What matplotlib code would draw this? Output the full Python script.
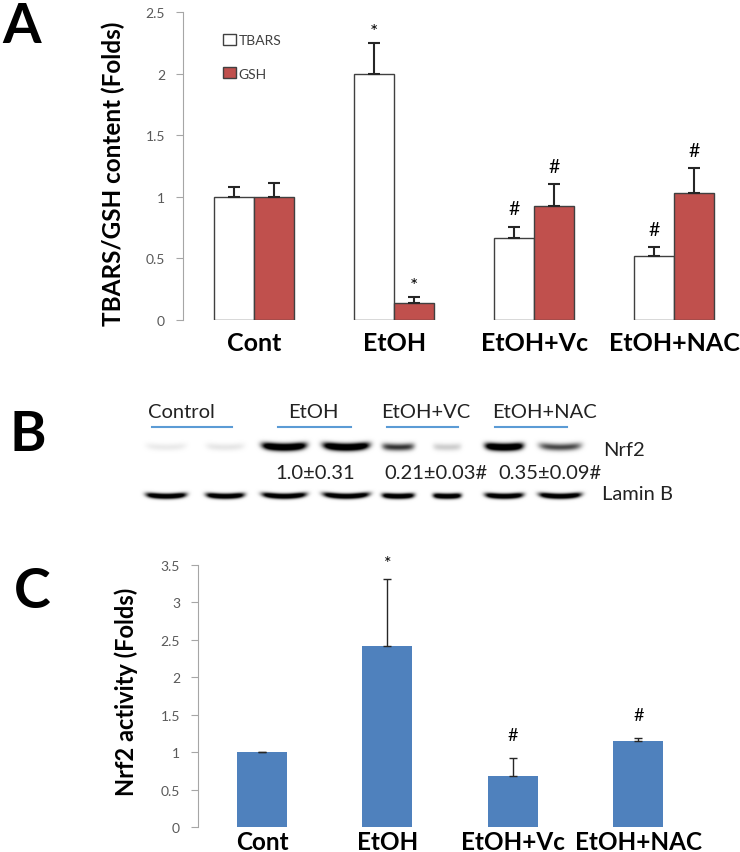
import numpy as np
import matplotlib
matplotlib.use("Agg")
import matplotlib.pyplot as plt

plt.rcParams['font.family'] = ['Lato', 'DejaVu Sans']

# ---- data -------------------------------------------------------------
groups_a = ['Cont', 'EtOH', 'EtOH+Vc', 'EtOH+NAC']
tbars = [1.0, 2.0, 0.665, 0.52]
tbars_err = [0.08, 0.25, 0.09, 0.07]
gsh = [1.0, 0.14, 0.925, 1.03]
gsh_err = [0.11, 0.05, 0.175, 0.20]
tbars_sig = ['', '*', '#', '#']
gsh_sig = ['', '*', '#', '#']

blot_groups = ['Control', 'EtOH', 'EtOH+VC', 'EtOH+NAC']
nrf2_band = [0.05, 0.06, 1.0, 1.0, 0.5, 0.12, 1.0, 0.45]
lamin_band = [1.0, 1.0, 1.0, 1.0, 1.0, 1.0, 1.0, 1.0]
nrf2_quant = ['', '1.0±0.31', '0.21±0.03#', '0.35±0.09#']

groups_c = ['Cont', 'EtOH', 'EtOH+Vc', 'EtOH+NAC']
nrf2_act = [1.0, 2.42, 0.68, 1.15]
nrf2_err = [0.005, 0.89, 0.24, 0.04]
nrf2_sig = ['', '*', '#', '#']

W, H = 740, 853
fig = plt.figure(figsize=(W / 100, H / 100), dpi=100)


def box(left, top, right, bottom):
    return [left / W, 1 - bottom / H, (right - left) / W, (bottom - top) / H]


def style_axis(ax, ymax, step):
    for s in ['top', 'right', 'bottom']:
        ax.spines[s].set_visible(False)
    ax.spines['left'].set_color('#a6a6a6')
    ax.set_ylim(0, ymax)
    ticks = np.arange(0, ymax + 0.01, step)
    ax.set_yticks(ticks)
    ax.set_yticklabels([f'{v:g}' for v in ticks])
    ax.tick_params(axis='y', direction='out', length=5, color='#a6a6a6',
                   labelcolor='#595959', labelsize=10, pad=8)
    ax.tick_params(axis='x', length=0, labelsize=18, pad=8)
    for lab in ax.get_xticklabels():
        lab.set_fontweight('bold')


# ---- panel A ----------------------------------------------------------
ax = fig.add_axes(box(183, 13, 740, 321))
x = np.arange(len(groups_a))
w = 0.286
b1 = ax.bar(x - w / 2, tbars, w, color='white', edgecolor='#404040', linewidth=1)
b2 = ax.bar(x + w / 2, gsh, w, color='#c0504d', edgecolor='#404040', linewidth=1)
ax.errorbar(x - w / 2, tbars, yerr=[np.zeros(4), tbars_err], fmt='none',
            ecolor='#262626', elinewidth=1.5, capsize=4, capthick=1.5)
ax.errorbar(x + w / 2, gsh, yerr=[np.zeros(4), gsh_err], fmt='none',
            ecolor='#262626', elinewidth=1.5, capsize=4, capthick=1.5)
for xs, vals, errs, sig in [(x - w / 2, tbars, tbars_err, tbars_sig),
                            (x + w / 2, gsh, gsh_err, gsh_sig)]:
    for xi, v, e, s in zip(xs, vals, errs, sig):
        if s:
            ax.annotate(s, (xi, v + e), xytext=(0, 7 if s == '#' else 2),
                        textcoords='offset points', ha='center', va='bottom',
                        fontsize=14)
ax.set_xlim(-0.507, 3.47)
ax.set_xticks(x)
ax.set_xticklabels(groups_a)
style_axis(ax, 2.5, 0.5)
ax.set_ylabel('TBARS/GSH content (Folds)', fontsize=17.5, fontweight='bold')
ax.yaxis.set_label_coords(-0.104, 0.477)
leg = ax.legend([b1, b2], ['TBARS', 'GSH'], loc='upper left',
                bbox_to_anchor=(0.072, 0.93), frameon=False, fontsize=10,
                handlelength=0.9, handleheight=0.9, handletextpad=0.2,
                labelspacing=1.5, borderpad=0, borderaxespad=0)
for t in leg.get_texts():
    t.set_color('#404040')
fig.text(2 / W, 1 - 2 / H, 'A', fontsize=40, fontweight='bold', va='top')

# ---- panel B (western blot) -------------------------------------------
axb = fig.add_axes(box(0, 380, W, 520))
axb.set_xlim(0, W)
axb.set_ylim(520, 380)
axb.axis('off')

lane_x = [166, 225, 284, 346, 398, 447, 504, 560]
lane_w = [40, 38, 44, 46, 32, 28, 38, 42]
x0, x1, y0, y1 = 130, 600, 435, 510
xx, yy = np.meshgrid(np.arange(x0, x1, 0.5), np.arange(y0, y1, 0.5))
dark = np.zeros_like(xx)
for cx, bw, a_n, a_l in zip(lane_x, lane_w, nrf2_band, lamin_band):
    hx = np.exp(-((xx - cx) / (bw / 2)) ** 6)
    smile = 0.004 * (xx - cx) ** 2
    dark += 1.6 * a_n * hx * np.exp(-((yy - 448 + smile) / 3.6) ** 2)
    dark += 1.5 * a_l * hx * np.exp(-((yy - 497 + smile) / 2.6) ** 2)
img = 1 - np.clip(dark, 0, 1)
axb.imshow(img, cmap='gray', vmin=0, vmax=1, extent=(x0, x1, y1, y0),
           aspect='auto', interpolation='bilinear')

label_x = [181, 313, 426, 545]
line_span = [(152, 232), (278, 351), (387, 458), (495, 567)]
for name, lx, (la, lb) in zip(blot_groups, label_x, line_span):
    axb.text(lx, 413, name, ha='center', va='center', fontsize=14.5,
             color='#222222')
    axb.plot([la, lb], [428, 428], color='#5b9bd5', lw=1.5)
quant_x = [0, 315, 436, 550]
for q, qx in zip(nrf2_quant, quant_x):
    if q:
        axb.text(qx, 474, q, ha='center', va='center', fontsize=14.5,
                 color='#222222')
axb.text(603, 451, 'Nrf2', ha='left', va='center', fontsize=14.5,
         color='#222222')
axb.text(602, 495, 'Lamin B', ha='left', va='center', fontsize=14.5,
         color='#222222')
fig.text(10 / W, 1 - 435 / H, 'B', fontsize=40, fontweight='bold',
         va='center')

# ---- panel C ----------------------------------------------------------
axc = fig.add_axes(box(198, 566, 701, 828))
xc = np.arange(len(groups_c))
axc.bar(xc, nrf2_act, 0.4, color='#4f81bd')
axc.errorbar(xc, nrf2_act, yerr=[np.zeros(4), nrf2_err], fmt='none',
             ecolor='#262626', elinewidth=1, capsize=3, capthick=1)
for xi, v, e, s in zip(xc, nrf2_act, nrf2_err, nrf2_sig):
    if s:
        axc.annotate(s, (xi, v + e), xytext=(0, 11 if s == '#' else 6),
                     textcoords='offset points', ha='center', va='bottom',
                     fontsize=13)
axc.set_xlim(-0.51, 3.5)
axc.set_xticks(xc)
axc.set_xticklabels(groups_c)
style_axis(axc, 3.5, 0.5)
axc.tick_params(axis='x', pad=2, labelsize=17.5)
axc.set_ylabel('Nrf2 activity (Folds)', fontsize=17, fontweight='bold')
axc.yaxis.set_label_coords(-0.12, 0.52)
fig.text(14 / W, 1 - 592 / H, 'C', fontsize=40, fontweight='bold',
         va='center')

fig.savefig('out.png', dpi=100)
